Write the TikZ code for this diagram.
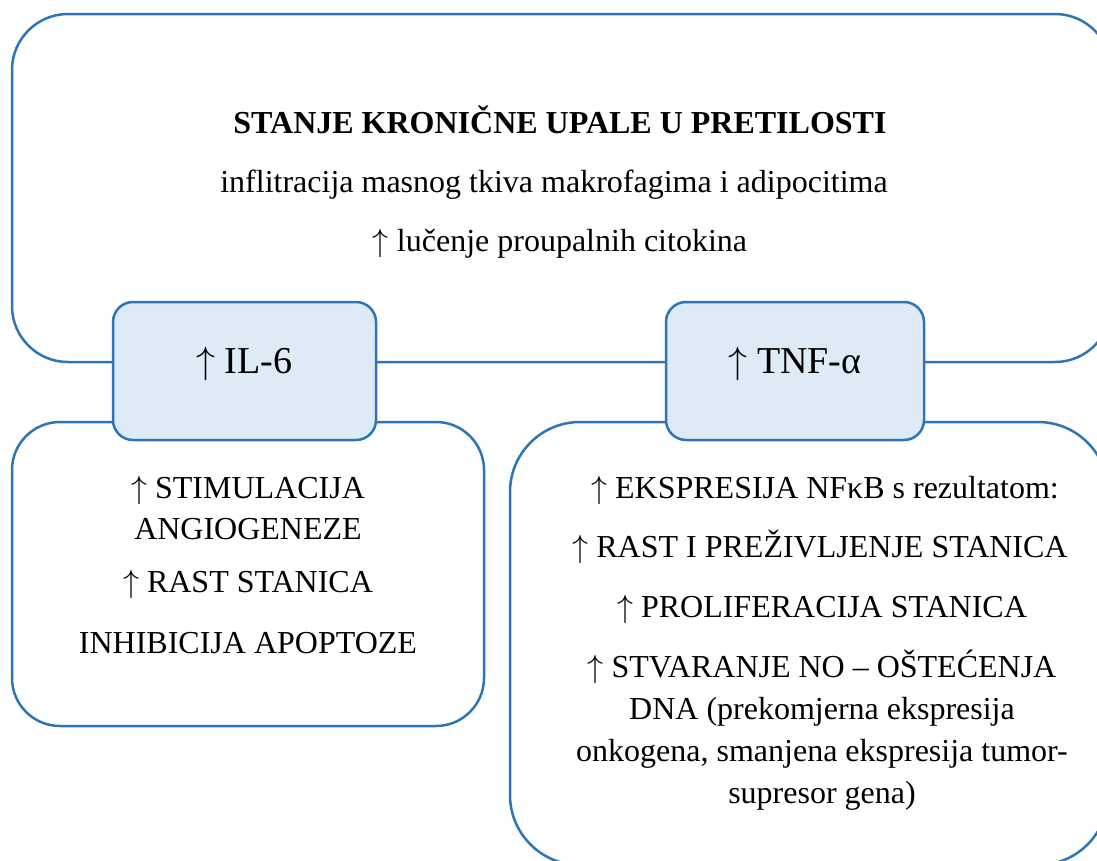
\RequirePackage{fix-cm}
\documentclass[tikz,border=0pt]{standalone}
\usepackage{fontspec}
\setmainfont{Liberation Serif}
\definecolor{edgeblue}{RGB}{46,117,182}
\definecolor{fillblue}{RGB}{222,234,246}
\newcommand{\upar}{$\uparrow$}
\begin{document}
\begin{tikzpicture}[x=1pt,y=-1pt,
  bigbox/.style={draw=edgeblue, line width=2.5pt, rectangle, inner sep=0pt},
  smallbox/.style={draw=edgeblue, fill=fillblue, line width=2.5pt, rectangle, inner sep=0pt, rounded corners=20pt, minimum width=263pt, minimum height=138pt},
  txt/.style={inner sep=0pt, anchor=base, font=\fontsize{32}{38}\selectfont},
  head/.style={inner sep=0pt, anchor=base, font=\fontsize{38}{44}\selectfont}]
\useasboundingbox (0,0) rectangle (1097,860);
\clip (0,0) rectangle (1097,860);
\fill[white] (0,0) rectangle (1097,860);
% large frames
\node[bigbox, rounded corners=56pt, minimum width=1099pt, minimum height=348pt] (top) at (561.5,188) {};
\node[bigbox, rounded corners=48pt, minimum width=472pt, minimum height=304pt] (left) at (248,574) {};
\node[bigbox, rounded corners=70pt, minimum width=598pt, minimum height=443pt] (right) at (809,643.5) {};
% small boxes
\node[smallbox] (il6) at (244.5,371) {};
\node[smallbox, minimum width=258pt] (tnf) at (795,371) {};
\node[head] (il6t) at (244.5,373) {\upar{} IL-6};
\node[head] (tnft) at (795,373) {\upar{} TNF-α};
% top text
\node[txt] (t1) at (560,133) {\textbf{STANJE KRONIČNE UPALE U PRETILOSTI}};
\node[txt] (t2) at (554,192) {inflitracija masnog tkiva makrofagima i adipocitima};
\node[txt] (t3) at (560,251) {\upar{} lučenje proupalnih citokina};
% left text
\node[txt] (l1) at (248,498) {\upar{} STIMULACIJA};
\node[txt] (l2) at (248,539) {ANGIOGENEZE};
\node[txt] (l3) at (248,592) {\upar{} RAST STANICA};
\node[txt] (l4) at (248,653) {INHIBICIJA APOPTOZE};
% right text
\node[txt] (r1) at (825,498) {\upar{} EKSPRESIJA NFκB s rezultatom:};
\node[txt] (r2) at (820,557) {\upar{} RAST I PREŽIVLJENJE STANICA};
\node[txt] (r3) at (822,617) {\upar{} PROLIFERACIJA STANICA};
\node[txt] (r4) at (822,677) {\upar{} STVARANJE NO – OŠTEĆENJA};
\node[txt] (r5) at (822,719) {DNA (prekomjerna ekspresija};
\node[txt] (r6) at (822,761) {onkogena, smanjena ekspresija tumor-};
\node[txt] (r7) at (822,803) {supresor gena)};
\end{tikzpicture}
\end{document}
